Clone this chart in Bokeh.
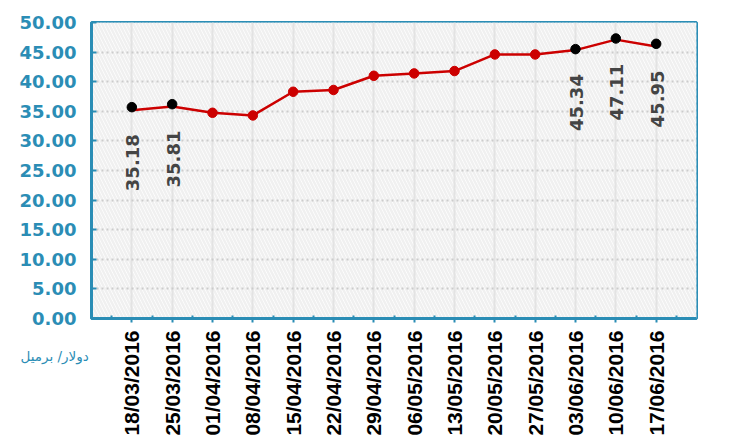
import math
from bokeh.plotting import figure
from bokeh.models import (Range1d, FixedTicker, NumeralTickFormatter, BoxAnnotation,
                          Label, ColumnDataSource)
from bokeh.core.properties import value
from bokeh.embed import file_html
from bokeh.resources import INLINE

# ---- data ----
dates = ["18/03/2016", "25/03/2016", "01/04/2016", "08/04/2016", "15/04/2016",
         "22/04/2016", "29/04/2016", "06/05/2016", "13/05/2016", "20/05/2016",
         "27/05/2016", "03/06/2016", "10/06/2016", "17/06/2016"]
prices = [35.18, 35.81, 34.75, 34.3, 38.3, 38.6, 41.0, 41.4, 41.8, 44.6,
          44.6, 45.34, 47.11, 45.95]
highlight_idx = [0, 1, 11, 12, 13]
highlight_marks = [35.7, 36.2, 45.5, 47.3, 46.4]
y_ticks = [0, 5, 10, 15, 20, 25, 30, 35, 40, 45, 50]
unit_label = "دولار/ برميل"

TEAL = "#2b8db5"
RED = "#cc0000"

xs = list(range(len(dates)))
n = len(dates)

p = figure(width=731, height=438, output_backend="svg", toolbar_location=None,
           x_range=Range1d(-1, n), y_range=Range1d(y_ticks[0], y_ticks[-1]),
           min_border_left=91, min_border_right=35, min_border_top=22,
           min_border_bottom=117)

p.background_fill_color = "white"
p.border_fill_color = "white"
p.outline_line_color = TEAL
p.outline_line_width = 3
p.outline_line_alpha = 1

# hatched background
bg = BoxAnnotation(fill_color="white", fill_alpha=1, line_color=None,
                   hatch_pattern="\\", hatch_color="#f0f0f0", hatch_weight=2.5,
                   hatch_scale=7, level="image")
p.add_layout(bg)

# axes
p.xaxis.ticker = FixedTicker(ticks=xs, minor_ticks=[i - 0.5 for i in range(n + 1)])
p.xaxis.major_label_overrides = {i: d for i, d in enumerate(dates)}
p.xaxis.major_label_orientation = math.pi / 2
p.xaxis.major_label_text_font = "Liberation Sans"
p.xaxis.major_label_text_font_style = "bold"
p.xaxis.major_label_text_font_size = "21px"
p.xaxis.major_label_text_color = "black"
p.xaxis.major_label_standoff = 8
p.xaxis.axis_line_color = TEAL
p.xaxis.axis_line_width = 3
p.xaxis.major_tick_line_color = TEAL
p.xaxis.major_tick_line_width = 2
p.xaxis.major_tick_in = 0
p.xaxis.major_tick_out = 4
p.xaxis.minor_tick_line_color = TEAL
p.xaxis.minor_tick_line_width = 2
p.xaxis.minor_tick_in = 3
p.xaxis.minor_tick_out = 0

p.yaxis.ticker = FixedTicker(ticks=y_ticks)
p.yaxis.formatter = NumeralTickFormatter(format="0.00")
p.yaxis.major_label_text_font = "DejaVu Sans"
p.yaxis.major_label_text_font_style = "bold"
p.yaxis.major_label_text_font_size = "18px"
p.yaxis.major_label_text_color = TEAL
p.yaxis.major_label_standoff = 15
p.yaxis.axis_line_color = TEAL
p.yaxis.axis_line_width = 3
p.yaxis.major_tick_line_color = TEAL
p.yaxis.major_tick_line_width = 2
p.yaxis.major_tick_in = 5
p.yaxis.major_tick_out = 0
p.yaxis.minor_tick_line_color = None

# grids
p.xgrid.grid_line_color = "#e3e3e3"
p.xgrid.grid_line_width = 2
p.ygrid.grid_line_color = "#cccccc"
p.ygrid.grid_line_width = 2
p.ygrid.grid_line_dash = "2 3"

# series
p.line(xs, prices, line_color=RED, line_width=2.5)
plain = [i for i in xs if i not in highlight_idx]
p.scatter([xs[i] for i in plain], [prices[i] for i in plain], size=9.5,
          fill_color=RED, line_color=RED)
p.scatter([xs[i] for i in highlight_idx], highlight_marks, size=9.5,
          fill_color="black", line_color="black")

lab_src = ColumnDataSource(dict(
    x=[xs[i] for i in highlight_idx],
    y=[prices[i] for i in highlight_idx],
    t=["%.2f" % prices[i] for i in highlight_idx]))
p.text(x="x", y="y", text="t", source=lab_src, angle=math.pi / 2,
       text_align="right", text_baseline="middle", x_offset=1, y_offset=24,
       text_font=value("DejaVu Sans"), text_font_style="bold",
       text_font_size="18px", text_color="#444444")

p.add_layout(Label(x=20, y=355, x_units="canvas", y_units="canvas",
                   text=unit_label, text_color=TEAL, text_font_size="13.5px",
                   text_font="DejaVu Sans", text_baseline="middle"), "above")

open("out.html", "w").write(file_html(p, INLINE))
